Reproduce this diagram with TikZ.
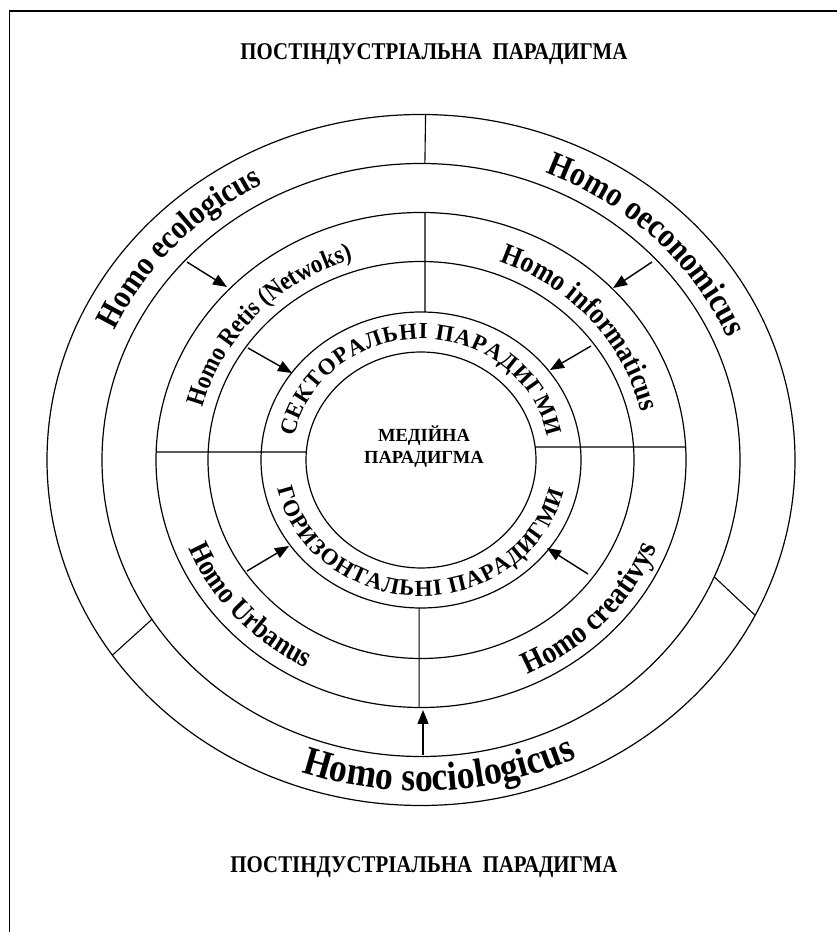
\documentclass[tikz,border=0pt]{standalone}
\usepackage{fontspec}
\setmainfont{Liberation Serif}
\newfontfamily\homofont[FakeStretch=0.88]{Liberation Serif}
\usetikzlibrary{arrows.meta,decorations.text,calc}
\begin{document}
\begin{tikzpicture}[x=1pt,y=1pt,
  ring/.style={line width=1.2pt},
  divider/.style={line width=1.1pt},
  arr/.style={line width=1.4pt,-{Triangle[length=14pt,width=11pt]}},
  frameline/.style={line width=1.8pt},
  titletext/.style={font=\fontsize{24}{24}\selectfont\bfseries,inner sep=0pt},
  centertext/.style={font=\fontsize{18.5}{22}\selectfont\bfseries,align=center,inner sep=0pt},
]
\useasboundingbox (0,0) rectangle (837,932);
\clip (0,0) rectangle (837,932);
\draw[frameline] (9.5,-20) rectangle (870,921);
\coordinate (C) at (421,472);
% ellipses
\foreach \rx/\ry in {115/108,160/148,213/198.5,265/247.5,319/296.5,374/345.5}
  \draw[ring] (C) ellipse [x radius=\rx, y radius=\ry];
% divider coordinates
\path (C) ++(89.3:374 and 345.5) coordinate (o6t);
\path (C) ++(89.3:319 and 296.5) coordinate (o5t);
\path (C) ++(214.4:374 and 345.5) coordinate (o6l);
\path (C) ++(212.5:319 and 296.5) coordinate (o5l);
\path (C) ++(-26.7:374 and 345.5) coordinate (o6r);
\path (C) ++(-23.2:319 and 296.5) coordinate (o5r);
\path (C) ++(89.14:265 and 247.5) coordinate (m4t);
\path (C) ++(88.57:160 and 148) coordinate (m2t);
\path (C) ++(269.3:160 and 148) coordinate (m2b);
\path (C) ++(269.6:265 and 247.5) coordinate (m4b);
\path (C) ++(178.15:265 and 247.5) coordinate (h4l);
\path (C) ++(175.75:115 and 108) coordinate (h1l);
\path (C) ++(6.9:115 and 108) coordinate (h1r);
\path (C) ++(3.0:265 and 247.5) coordinate (h4r);
\draw[divider] (o6t) -- (o5t);
\draw[divider] (o6l) -- (o5l);
\draw[divider] (o6r) -- (o5r);
\draw[divider] (m4t) -- (m2t);
\draw[divider] (m2b) -- (m4b);
\draw[divider] (h4l) -- (h1l);
\draw[divider] (h1r) -- (h4r);
% arrows
\coordinate (a1s) at (187,670); \coordinate (a1e) at (227,645);
\coordinate (a2s) at (248,584); \coordinate (a2e) at (292,559);
\coordinate (a3s) at (652,670); \coordinate (a3e) at (613,644);
\coordinate (a4s) at (591,586); \coordinate (a4e) at (550,562);
\coordinate (a5s) at (247,361); \coordinate (a5e) at (289,386);
\coordinate (a6s) at (588,358); \coordinate (a6e) at (547,384);
\coordinate (a7s) at (423,177); \coordinate (a7e) at (423,222);
\foreach \i in {1,...,7} \draw[arr] (a\i s) -- (a\i e);
% titles
\node[titletext] (ttop) at (434,878) {\scalebox{0.87}[1]{ПОСТІНДУСТРІАЛЬНА\ \ ПАРАДИГМА}};
\node[titletext] (tbot) at (424,65) {\scalebox{0.87}[1]{ПОСТІНДУСТРІАЛЬНА\ \ ПАРАДИГМА}};
\node[centertext] (med) at (424,485) {МЕДІЙНА\\ПАРАДИГМА};
% outer ring texts
\path[decorate,decoration={text along path,text align=center,
  text={|\homofont\fontsize{33.5}{33.5}\selectfont\bfseries|Homo ecologicus}}]
  (C) ++(177.5:336 and 313) arc[start angle=177.5,end angle=97.5,x radius=336,y radius=313];
\path[decorate,decoration={text along path,text align=center,
  text={|\homofont\fontsize{34.5}{34.5}\selectfont\bfseries|Homo oeconomicus}}]
  (C) ++(85:333 and 310) arc[start angle=85,end angle=5,x radius=333,y radius=310];
\path[decorate,decoration={text along path,text align=center,
  text={|\homofont\fontsize{40.5}{40.5}\selectfont\bfseries|Homo sociologicus}}]
  (C) ++(231.7:358 and 331) arc[start angle=231.7,end angle=314.7,x radius=358,y radius=331];
% middle ring texts
\path[decorate,decoration={text along path,text align=center,
  text={|\homofont\fontsize{26}{26}\selectfont\bfseries|Homo Retis (Netwoks)}}]
  (C) ++(178:225 and 210.5) arc[start angle=178,end angle=96,x radius=225,y radius=210.5];
\path[decorate,decoration={text along path,text align=center,
  text={|\homofont\fontsize{29.5}{29.5}\selectfont\bfseries|Homo informaticus}}]
  (C) ++(82:226 and 211.5) arc[start angle=82,end angle=0,x radius=226,y radius=211.5];
\path[decorate,decoration={text along path,text align=center,
  text={|\homofont\fontsize{29.5}{29.5}\selectfont\bfseries|Homo Urbanus}}]
  (C) ++(186:251 and 233.5) arc[start angle=186,end angle=258,x radius=251,y radius=233.5];
\path[decorate,decoration={text along path,text align=center,
  text={|\homofont\fontsize{31.5}{31.5}\selectfont\bfseries|Homo creativys}}]
  (C) ++(-79:254 and 236.5) arc[start angle=-79,end angle=-7,x radius=254,y radius=236.5];
% inner ring texts
\path[decorate,decoration={text along path,text align=fit to path,
  text={|\fontsize{23}{23}\selectfont\bfseries|СЕКТОРАЛЬНІ ПАРАДИГМИ}}]
  (C) ++(169:129 and 121) arc[start angle=169,end angle=11,x radius=129,y radius=121];
\path[decorate,decoration={text along path,text align=fit to path,
  text={|\fontsize{23}{23}\selectfont\bfseries|ГОРИЗОНТАЛЬНІ ПАРАДИГМИ}}]
  (C) ++(192:147 and 136) arc[start angle=192,end angle=346.6,x radius=147,y radius=136];
\end{tikzpicture}
\end{document}
